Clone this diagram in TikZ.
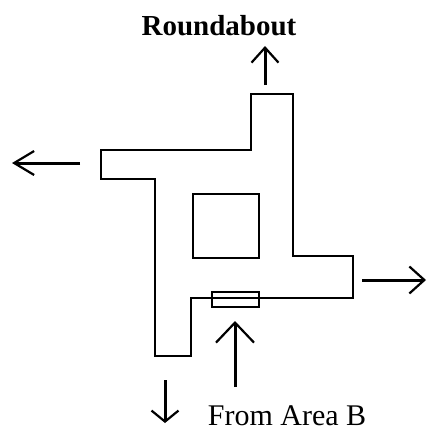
\documentclass[tikz,border=0pt]{standalone}
\usepackage{fontspec}
\setmainfont{Liberation Serif}
\usetikzlibrary{positioning,arrows.meta}

\begin{document}
\begin{tikzpicture}[x=1pt,y=-1pt,
	road/.style={draw=black, line width=2pt, line join=miter},
	way/.style={-{Straight Barb[length=15pt, width=27pt, line width=2.2pt]}, line width=3pt},
	entry/.style={-{Straight Barb[length=20pt, width=38pt, line width=2.2pt]}, line width=3pt},
	label/.style={anchor=base, inner sep=0pt, font=\fontsize{30}{30}\selectfont}]
	
	\useasboundingbox (0,0) rectangle (428,434);
	
	% outline of the roads
	\draw[road] (251,94) -- (293,94) -- (293,256) -- (353,256) -- (353,298)
		-- (191,298) -- (191,356) -- (155,356) -- (155,179) -- (101,179)
		-- (101,150) -- (251,150) -- cycle;
	
	% island and gate
	\draw[road] (193,194) rectangle (259,258);
	\draw[road] (212,292) rectangle (259,307);
	
	% ends of the arrows
	\coordinate (ntail) at (265,85);
	\coordinate (nhead) at (265,46);
	\coordinate (wtail) at (80,163);
	\coordinate (whead) at (12,163);
	\coordinate (etail) at (362,280);
	\coordinate (ehead) at (426,280);
	\coordinate (stail) at (165,380);
	\coordinate (shead) at (165,423);
	\coordinate (btail) at (235,387);
	\coordinate (bhead) at (235,321);
	
	\draw[way] (ntail) -- (nhead);
	\draw[way, -{Straight Barb[length=20pt, width=24pt, line width=2.2pt]}] (wtail) -- (whead);
	\draw[way] (etail) -- (ehead);
	\draw[way, -{Straight Barb[length=11pt, width=27pt, line width=2.2pt]}] (stail) -- (shead);
	\draw[entry] (btail) -- (bhead);
	
	\node (title) [label, font=\fontsize{29}{29}\selectfont\bfseries] at (219,35) {Roundabout};
	\node (areab) [label] at (287,425) {From Area B};
	
\end{tikzpicture}
\end{document}
